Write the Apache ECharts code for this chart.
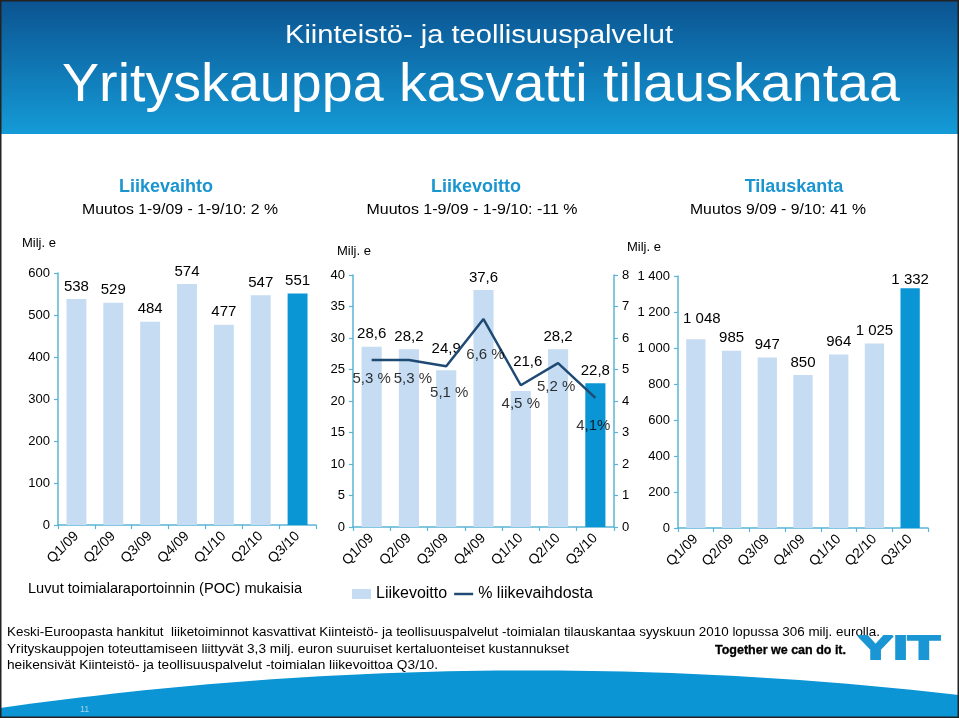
<!DOCTYPE html>
<html>
<head>
<meta charset="utf-8">
<script src="https://cdn.jsdelivr.net/npm/echarts@6/dist/echarts.min.js"></script>
<style>
html,body{margin:0;padding:0;background:#fff;}
#main{width:959px;height:718px;}
</style>
</head>
<body>
<div id="main"></div>
<script>
// ---------- data ----------
const categories = ['Q1/09','Q2/09','Q3/09','Q4/09','Q1/10','Q2/10','Q3/10'];
const revenue = [538, 529, 484, 574, 477, 547, 551];          // Liikevaihto, Milj. e
const ebit = [28.6, 28.2, 24.9, 37.6, 21.6, 28.2, 22.8];     // Liikevoitto, Milj. e
const ebitPct = [5.3, 5.3, 5.1, 6.6, 4.5, 5.2, 4.1];          // % liikevaihdosta
const ebitPctLabels = ['5,3 %','5,3 %','5,1 %','6,6 %','4,5 %','5,2 %','4,1%'];
const backlog = [1048, 985, 947, 850, 964, 1025, 1332];       // Tilauskanta, Milj. e
const revenueAxis = [0, 600, 100];   // min, max, interval
const ebitAxis = [0, 40, 5];
const pctAxis = [0, 8, 1];
const backlogAxis = [0, 1400, 200];

// ---------- styles ----------
const LO = '#c5dcf2', HI = '#0a96d4', LINE = '#1f4a73', AX = '#5ab4d6';
const FONT = '"Liberation Sans", Arial, Helvetica, sans-serif';
const ebitLabelAdj = [[5,0],[5,0],[14,0],[5,0],[22,7],[5,0],[5,0]];     // distance, dx
const pctLabelAdj = [[11,0],[11,4],[19,3],[28,2],[11,0],[16,-2],[21,-2]];
const backlogLabelAdj = [[13,6],[5,0],[5,0],[5,0],[5,0],[5,0],[1,0]];

const fmtComma = v => String(v).replace('.', ',');
const fmtSpace = v => String(v).replace(/\B(?=(\d{3})+(?!\d))/g, ' ');

const ctx = document.createElement('canvas').getContext('2d');
function fitScale(text, font, target) {
  ctx.font = font;
  return target / ctx.measureText(text).width;
}
function txt(text, x, y, size, opts) {
  opts = opts || {};
  const weight = opts.weight || 'normal';
  const font = weight + ' ' + size + 'px ' + FONT;
  const el = {
    type: 'text', x: x, y: y, z: 10,
    style: {
      text: text, fill: opts.color || '#000',
      font: font,
      textAlign: opts.align || 'left', textVerticalAlign: 'middle'
    }
  };
  if (opts.stroke) { el.style.stroke = opts.stroke; el.style.lineWidth = opts.strokeWidth || 1; }
  if (opts.width) { el.scaleX = fitScale(text, font, opts.width); el.originX = 0; el.originY = 0; }
  return el;
}

// bottom arc outline (decoration)
const arcPts = [];
for (let i = 0; i <= 60; i++) {
  const t = i / 60;
  const x = 2 * (1 - t) * t * 480 + t * t * 959;
  const y = (1 - t) * (1 - t) * 708 + 2 * (1 - t) * t * 640 + t * t * 695;
  arcPts.push([x, y]);
}
arcPts.push([959, 718], [0, 718]);

function barSeries(name, values, xi, yi, adj, fmt) {
  return {
    name: name, type: 'bar', xAxisIndex: xi, yAxisIndex: yi,
    barWidth: '54%',
    itemStyle: { color: LO },
    data: values.map((v, i) => ({
      value: v,
      itemStyle: { color: i === values.length - 1 ? HI : LO },
      label: { distance: adj[i][0], offset: [adj[i][1], 0] }
    })),
    label: { show: true, position: 'top', fontSize: 15, color: '#000', fontFamily: FONT, formatter: p => fmt(p.value) }
  };
}

const axisLineStyle = { show: true, lineStyle: { color: AX, width: 1.5 } };
const axisTickStyle = { show: true, length: 4, lineStyle: { color: AX, width: 1.2 } };
function xAx(gi) {
  return {
    type: 'category', gridIndex: gi, data: categories,
    axisLine: axisLineStyle, axisTick: axisTickStyle,
    axisLabel: { rotate: 45, interval: 0, fontSize: 14, color: '#000', fontFamily: FONT, margin: 9 }
  };
}
function yAx(gi, range, pos, fmt) {
  return {
    type: 'value', gridIndex: gi, min: range[0], max: range[1], interval: range[2], position: pos,
    axisLine: axisLineStyle, axisTick: axisTickStyle, splitLine: { show: false },
    axisLabel: { fontSize: 13, color: '#000', fontFamily: FONT, margin: 8, formatter: fmt || (v => v) }
  };
}

const chart = echarts.init(document.getElementById('main'), null, { renderer: 'canvas' });
chart.setOption({
  animation: false,
  backgroundColor: '#fff',
  grid: [
    { left: 58, right: 959 - 316, top: 273, bottom: 718 - 525 },
    { left: 353, right: 959 - 614, top: 275, bottom: 718 - 527 },
    { left: 678, right: 959 - 928, top: 276, bottom: 718 - 528 }
  ],
  xAxis: [xAx(0), xAx(1), xAx(2)],
  yAxis: [
    yAx(0, revenueAxis, 'left'),
    yAx(1, ebitAxis, 'left'),
    yAx(1, pctAxis, 'right'),
    yAx(2, backlogAxis, 'left', fmtSpace)
  ],
  legend: {
    data: [
      { name: 'Liikevoitto', icon: 'rect' },
      { name: '% liikevaihdosta', icon: 'path://M0,0 L20,0 L20,2.6 L0,2.6 Z' }
    ],
    left: 347, top: 581, itemWidth: 19, itemHeight: 10, itemGap: 7,
    textStyle: { fontSize: 16, color: '#000', fontFamily: FONT }
  },
  series: [
    barSeries('Liikevaihto', revenue, 0, 0, [[5,0],[5,0],[5,0],[5,0],[5,0],[5,0],[5,0]], v => v),
    barSeries('Liikevoitto', ebit, 1, 1, ebitLabelAdj, fmtComma),
    {
      name: '% liikevaihdosta', type: 'line', xAxisIndex: 1, yAxisIndex: 2,
      symbol: 'none', z: 5,
      lineStyle: { color: LINE, width: 2.5 }, itemStyle: { color: LINE },
      data: ebitPct
    },
    {
      name: 'pct-labels', type: 'scatter', xAxisIndex: 1, yAxisIndex: 2,
      symbolSize: 0, z: 6, silent: true,
      data: ebitPct.map((v, i) => ({
        value: v,
        label: { distance: pctLabelAdj[i][0], offset: [pctLabelAdj[i][1], 0] }
      })),
      label: { show: true, position: 'bottom', fontSize: 15, color: '#000', fontFamily: FONT,
               formatter: p => ebitPctLabels[p.dataIndex] }
    },
    barSeries('Tilauskanta', backlog, 2, 3, backlogLabelAdj, fmtSpace)
  ],
  graphic: [
    // header band
    { type: 'rect', shape: { x: 0, y: 0, width: 959, height: 134 }, z: 1,
      style: { fill: new echarts.graphic.LinearGradient(0, 0, 0, 1, [
        { offset: 0, color: '#0b5390' }, { offset: 1, color: '#149bd7' }]) } },
    txt('Kiinteistö- ja teollisuuspalvelut', 479, 36, 25, { color: '#fff', align: 'center', width: 388 }),
    txt('Yrityskauppa kasvatti tilauskantaa', 481, 86, 53, { color: '#fff', align: 'center', width: 838 }),
    // section headings
    txt('Liikevaihto', 166, 187, 18, { color: '#1a95cf', align: 'center', weight: 'bold' }),
    txt('Muutos 1-9/09 - 1-9/10: 2 %', 180, 210, 15, { align: 'center', width: 196 }),
    txt('Liikevoitto', 476, 187, 18, { color: '#1a95cf', align: 'center', weight: 'bold' }),
    txt('Muutos 1-9/09 - 1-9/10: -11 %', 472, 210, 15, { align: 'center', width: 211 }),
    txt('Tilauskanta', 794, 187, 18, { color: '#1a95cf', align: 'center', weight: 'bold' }),
    txt('Muutos 9/09 - 9/10: 41 %', 778, 210, 15, { align: 'center', width: 176 }),
    // unit labels
    txt('Milj. e', 22, 243, 13),
    txt('Milj. e', 337, 251, 13),
    txt('Milj. e', 627, 247, 13),
    txt('Luvut toimialaraportoinnin (POC) mukaisia', 28, 589, 15, { width: 274 }),
    // bottom arc
    { type: 'polygon', z: 1, shape: { points: arcPts }, style: { fill: '#0b95d4' } },
    txt('Keski-Euroopasta hankitut  liiketoiminnot kasvattivat Kiinteistö- ja teollisuuspalvelut -toimialan tilauskantaa syyskuun 2010 lopussa 306 milj. eurolla.', 7, 632, 13, { width: 873 }),
    txt('Yrityskauppojen toteuttamiseen liittyvät 3,3 milj. euron suuruiset kertaluonteiset kustannukset', 7, 649, 13, { width: 562 }),
    txt('heikensivät Kiinteistö- ja teollisuuspalvelut -toimialan liikevoittoa Q3/10.', 7, 665, 13, { width: 431 }),
    txt('Together we can do it.', 715, 651, 12, { weight: 'bold', width: 131, stroke: '#000', strokeWidth: 0.3 }),
    txt('YIT', 858, 650, 34, { weight: 'bold', color: '#1a96d4', width: 82, stroke: '#1a96d4', strokeWidth: 2 }),
    txt('11', 80, 710, 9, { color: '#9fd3ee' }),
    // frame
    { type: 'rect', z: 20, shape: { x: 0.75, y: 0.75, width: 957.5, height: 716.5 },
      style: { fill: 'none', stroke: '#222', lineWidth: 1.5 } }
  ]
});
</script>
</body>
</html>
